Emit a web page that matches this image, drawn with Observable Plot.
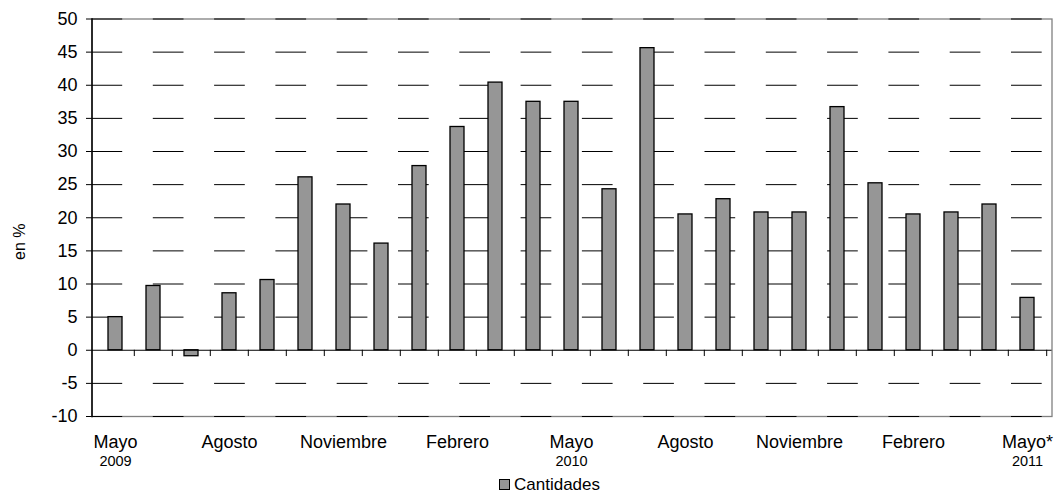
<!DOCTYPE html>
<html>
<head>
<meta charset="utf-8">
<script src="https://cdn.jsdelivr.net/npm/d3@7"></script>
<script src="https://cdn.jsdelivr.net/npm/@observablehq/plot@0.6"></script>
<style>
  html, body { margin: 0; padding: 0; background: #fff; }
  body { font-family: "Liberation Sans", Arial, sans-serif; }
  #wrap { position: relative; width: 1064px; height: 496px; }
  #legend { position: absolute; left: 499px; top: 475.6px; display: flex; align-items: center;
            font-size: 17px; line-height: 17px; color: #000; }
  #legend .sw { width: 9px; height: 9px; border: 1px solid #000; background: #969696; margin-right: 4px; }
</style>
</head>
<body>
<div id="wrap">
  <div id="chart"></div>
  <div id="legend"><span class="sw"></span><span id="legtext"></span></div>
</div>
<script>
// ---- data ----
const periods = [
  "2009-05","2009-06","2009-07","2009-08","2009-09","2009-10","2009-11","2009-12",
  "2010-01","2010-02","2010-03","2010-04","2010-05","2010-06","2010-07","2010-08",
  "2010-09","2010-10","2010-11","2010-12","2011-01","2011-02","2011-03","2011-04","2011-05"
];
const values = [
  5.0, 9.7, -0.9, 8.6, 10.6, 26.1, 22.0, 16.1,
  27.8, 33.7, 40.4, 37.5, 37.5, 24.3, 45.6, 20.5,
  22.8, 20.8, 20.8, 36.7, 25.2, 20.5, 20.8, 22.0, 7.9
];
const monthTicks = ["2009-05","2009-08","2009-11","2010-02","2010-05","2010-08","2010-11","2011-02","2011-05"];
const monthLabels = ["Mayo","Agosto","Noviembre","Febrero","Mayo","Agosto","Noviembre","Febrero","Mayo*"];
const yearTicks = ["2009-05","2010-05","2011-05"];
const yearLabels = ["2009","2010","2011"];
const yTicks = [-10,-5,0,5,10,15,20,25,30,35,40,45,50];
const seriesName = "Cantidades";
const yLabel = "en %";

// ---- chart ----
const W = 1064, H = 470, ML = 91.5, MR = 12.5, MT = 18.5, MB = 54;
const step = (W - ML - MR) / periods.length;
const data = periods.map((p, i) => ({period: p, value: values[i]}));
const monthMap = new Map(monthTicks.map((t, i) => [t, monthLabels[i]]));
const yearMap = new Map(yearTicks.map((t, i) => [t, yearLabels[i]]));

const chart = Plot.plot({
  width: W, height: H,
  marginLeft: ML, marginRight: MR, marginTop: MT, marginBottom: MB,
  style: {fontFamily: "'Liberation Sans', Arial, sans-serif", background: "#fff", color: "#000"},
  x: {type: "band", domain: periods, paddingInner: 0.62, paddingOuter: 0.31, axis: null},
  y: {domain: [-10, 50], axis: null},
  marks: [
    Plot.frame({stroke: "#808080", strokeWidth: 1.3}),
    Plot.ruleY(yTicks.filter(v => v !== 0), {stroke: "#000", strokeWidth: 1, strokeDasharray: "30.7,30.6"}),
    Plot.barY(data, {x: "period", y: "value", fill: "#969696", stroke: "#000", strokeWidth: 1.3}),
    Plot.ruleY([0], {stroke: "#000", strokeWidth: 1.2}),
    Plot.ruleX(periods.slice(1), {x: d => d, y1: 0, y2: -0.95, dx: -step / 2, stroke: "#000", strokeWidth: 1}),
    Plot.ruleX(periods.slice(-1), {x: d => d, y1: 0, y2: -0.95, dx: step / 2, stroke: "#000", strokeWidth: 1}),
    Plot.frame({anchor: "left", stroke: "#000", strokeWidth: 1.5}),
    Plot.axisY({ticks: yTicks, tickSize: 5.5, tickPadding: 9, fontSize: 18, label: null, tickFormat: d => String(d)}),
    Plot.axisX({ticks: monthTicks, tickFormat: d => monthMap.get(d), tickSize: 0, tickPadding: 19, fontSize: 18, label: null}),
    Plot.axisX({ticks: yearTicks, tickFormat: d => yearMap.get(d), tickSize: 0, tickPadding: 39.5, fontSize: 14.5, label: null}),
    Plot.text([yLabel], {frameAnchor: "left", textAnchor: "middle", lineAnchor: "middle", text: d => d, rotate: -90, dx: -72.5, dy: 24, fontSize: 16, fill: "#000"})
  ]
});
document.getElementById("chart").appendChild(chart);
document.getElementById("legtext").textContent = seriesName;
</script>
</body>
</html>
